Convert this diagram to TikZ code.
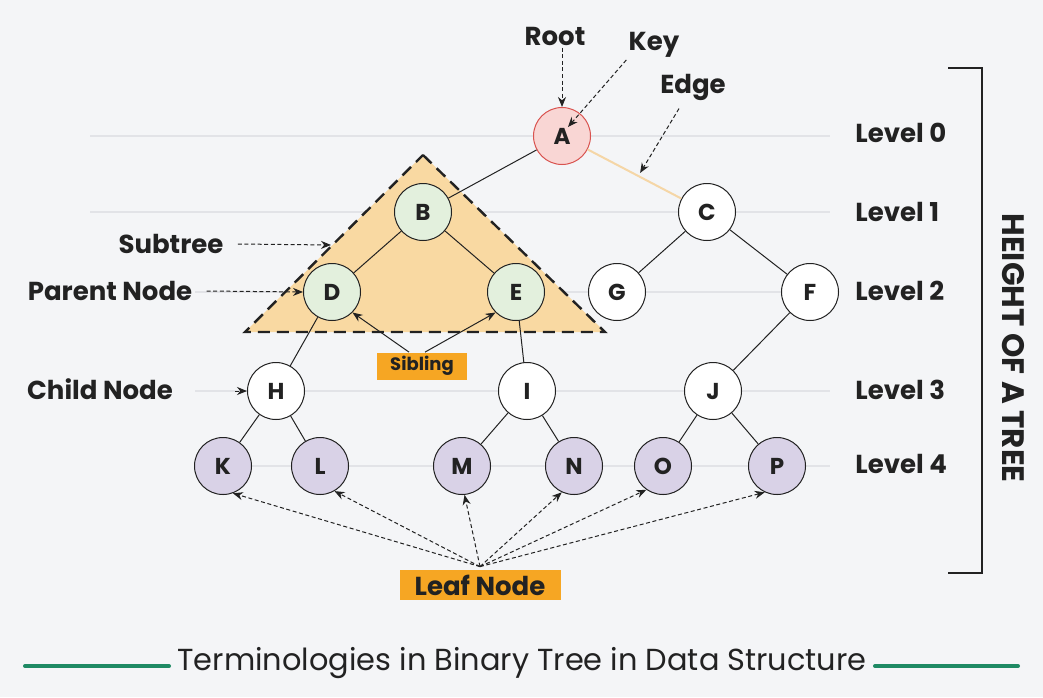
\documentclass[tikz,border=0pt]{standalone}
\usepackage{fontspec}
\setmainfont{Poppins}
\usetikzlibrary{arrows.meta}

\definecolor{bgcol}{HTML}{F4F5F7}
\definecolor{guidecol}{HTML}{E2E3E7}
\definecolor{inkcol}{HTML}{222222}
\definecolor{rootfill}{HTML}{F9D6D4}
\definecolor{rootdraw}{HTML}{D9534F}
\definecolor{subfill}{HTML}{E3F0DD}
\definecolor{leaffill}{HTML}{D9D2E7}
\definecolor{trifill}{HTML}{F9D9A2}
\definecolor{tagfill}{HTML}{F6A623}
\definecolor{edgecol}{HTML}{F5D6A6}
\definecolor{titlecol}{HTML}{1F8A64}

\begin{document}
\begin{tikzpicture}[x = 0.5pt, y = -0.5pt, inkcol,
		vert/.style = {circle, draw = inkcol, line width = 0.5pt, fill = white, minimum size = 28.5pt, inner sep = 0pt, font = \fontsize{11.5}{13}\selectfont\bfseries},
		lbl/.style = {font = \fontsize{13}{15}\selectfont\bfseries, inner sep = 1pt},
		tag/.style = {fill = tagfill, inner sep = 0pt, font = \bfseries},
		ptr/.style = {-{Stealth[length = 5pt, width = 4pt]}, dash pattern = on 2pt off 1.3pt, line width = 0.5pt},
		sib/.style = {-{Stealth[length = 5pt, width = 4pt]}, line width = 0.5pt},
		guide/.style = {guidecol, line width = 0.6pt}]
	
		\fill[bgcol] (0, 0) rectangle (1043, 697);
		
		\draw[guide] (90, 136) -- (830, 136);
		\draw[guide] (90, 212) -- (830, 212);
		\foreach \y in {292, 391, 466}
			\draw[guide] (195, \y) -- (830, \y);
		
		\fill[trifill] (423, 155) -- (605, 332) -- (245, 332) -- cycle;
		\draw[line width = 1.2pt, dash pattern = on 6pt off 3.5pt] (423, 155) -- (605, 332) -- (245, 332) -- cycle;
		
		\node[vert, fill = rootfill, draw = rootdraw] (A) at (562, 136) {A};
		\node[vert, fill = subfill] (B) at (423, 212) {B};
		\node[vert] (C) at (707, 212) {C};
		\node[vert, fill = subfill] (D) at (332, 292) {D};
		\node[vert, fill = subfill] (E) at (516, 292) {E};
		\node[vert] (G) at (617, 292) {G};
		\node[vert] (F) at (810, 292) {F};
		\node[vert] (H) at (276, 391) {H};
		\node[vert] (I) at (527, 391) {I};
		\node[vert] (J) at (713, 391) {J};
		\node[vert, fill = leaffill] (K) at (223, 466) {K};
		\node[vert, fill = leaffill] (L) at (320, 466) {L};
		\node[vert, fill = leaffill] (M) at (462, 466) {M};
		\node[vert, fill = leaffill] (N) at (574, 466) {N};
		\node[vert, fill = leaffill] (O) at (663, 466) {O};
		\node[vert, fill = leaffill] (P) at (777, 466) {P};
		
		\draw[line width = 0.5pt] (A) -- (B);
		\draw[edgecol, line width = 1pt] (A) -- (C) coordinate[pos = 0.56] (ACmid);
		\foreach \u/\v in {B/D, B/E, C/G, C/F, D/H, E/I, F/J, H/K, H/L, I/M, I/N, J/O, J/P}
			\draw[line width = 0.5pt] (\u) -- (\v);
		
		\node[lbl] (root) at (555, 36) {Root};
		\node[lbl] (key) at (654, 45) {Key};
		\node[lbl] (edge) at (693, 87) {Edge};
		\node[lbl] (subtree) at (171, 244) {Subtree};
		\node[lbl] (parent) at (110, 291) {Parent Node};
		\node[lbl] (child) at (100, 389) {Child Node};
		\coordinate (subedge) at (331, 245);
		
		\draw[ptr] (root.south -| A) -- (A.north);
		\draw[ptr] (key.south west) -- ([shift = {(6, -9)}]A.center);
		\draw[ptr] ([xshift = -7pt, yshift = -3pt]edge.south) -- ([yshift = 2pt]ACmid);
		\draw[ptr] (subtree.east) ++(12, 0) -- (subedge);
		\draw[ptr] ([xshift = 6pt]parent.east) -- (D.west);
		\draw[ptr] ([xshift = -6pt]H.west) -- (H.west);
		
		\node[tag, minimum width = 45pt, minimum height = 13.5pt, font = \fontsize{9}{11}\selectfont\bfseries] (sibling) at (422, 366) {Sibling};
		\draw[sib] ([xshift = -6.5pt]sibling.north) -- (D.south east);
		\draw[sib] ([xshift = 1.5pt]sibling.north) -- (E.south west);
		
		\node[tag, minimum width = 80.5pt, minimum height = 15pt, font = \fontsize{13}{15}\selectfont\bfseries] (leaf) at (480, 585) {Leaf Node};
		\foreach \v/\a in {K/-70, L/-60, M/-85, N/-115, O/-125, P/-115}
			\draw[ptr] ([yshift = 1.5pt]leaf.north) -- (\v.\a);
		
		\foreach \i/\y in {0/133, 1/212, 2/291, 3/390, 4/464}
			\node[lbl, anchor = west] (lv\i) at (853, \y) {Level \i};
		
		\draw[line width = 1pt] (948, 68) -- (982, 68) -- (982, 573) -- (948, 573);
		\node[lbl, rotate = -90, font = \fontsize{15.5}{17}\selectfont\bfseries] (height) at (1013, 348) {HEIGHT OF A TREE};
		
		\node[font = \fontsize{15.2}{17}\selectfont, inner sep = 4pt] (title) at (522, 663) {Terminologies in Binary Tree in Data Structure};
		\coordinate (tl) at (25, 666);
		\coordinate (tr) at (1018, 666);
		\draw[titlecol, line width = 2pt, line cap = round] (tl) -- (title.west |- tl);
		\draw[titlecol, line width = 2pt, line cap = round] (title.east |- tr) -- (tr);
		
	\end{tikzpicture}
\end{document}
